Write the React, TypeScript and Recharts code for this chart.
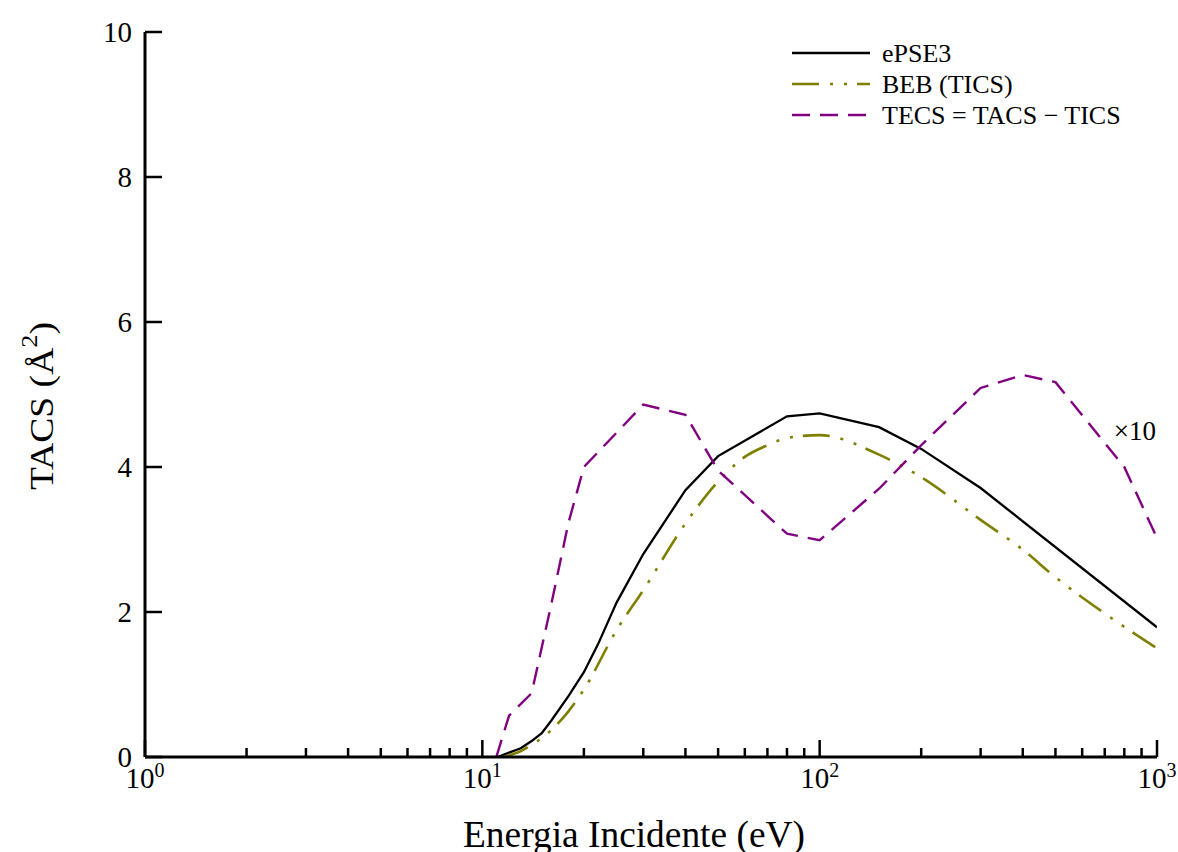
import { LineChart, Line, XAxis, YAxis, Legend, Label, ReferenceDot } from 'recharts';

// Energies in eV, cross sections in Å²
const epse3Energy = [11.1, 12, 13, 14, 15, 16, 18, 20, 22, 25, 30, 40, 50, 80, 100, 150, 200, 300, 1000];
const epse3Tacs = [0, 0.06, 0.12, 0.22, 0.33, 0.5, 0.84, 1.17, 1.55, 2.13, 2.8, 3.68, 4.15, 4.7, 4.74, 4.55, 4.25, 3.71, 1.79];

const bebEnergy = [11.5, 13, 14, 15, 16, 18, 20, 25, 30, 40, 50, 60, 70, 80, 100, 150, 200, 300, 400, 500, 700, 1000];
const bebTics = [0, 0.08, 0.17, 0.26, 0.37, 0.63, 0.93, 1.75, 2.3, 3.22, 3.8, 4.14, 4.3, 4.4, 4.44, 4.17, 3.86, 3.27, 2.86, 2.48, 1.98, 1.5];

// TECS is drawn multiplied by 10
const tecsEnergy = [11, 12, 14, 16, 18, 20, 30, 40, 50, 80, 100, 150, 200, 300, 400, 500, 800, 1000];
const tecsX10 = [0, 0.57, 0.88, 2.1, 3.23, 4.0, 4.86, 4.72, 3.95, 3.08, 2.99, 3.7, 4.3, 5.09, 5.27, 5.17, 4.0, 3.02];

const xTicks = [1, 2, 3, 4, 5, 6, 7, 8, 9, 10, 20, 30, 40, 50, 60, 70, 80, 90, 100, 200, 300, 400, 500, 600, 700, 800, 900, 1000];
const yTicks = [0, 2, 4, 6, 8, 10];

const bebDash = '27 11 3 11 3 10';
const tecsDash = '18 10';

const legendItems = [
  { name: 'ePSE3', color: '#000000', dash: undefined as string | undefined, width: 2.3 },
  { name: 'BEB (TICS)', color: '#808000', dash: bebDash, width: 2.6 },
  { name: 'TECS = TACS \u2212 TICS', color: '#800080', dash: tecsDash, width: 2.4 },
];

const epse3Data = epse3Energy.map((e, i) => ({ e, v: epse3Tacs[i] }));
const bebData = bebEnergy.map((e, i) => ({ e, v: bebTics[i] }));
const tecsData = tecsEnergy.map((e, i) => ({ e, v: tecsX10[i] }));

const serif = '"Liberation Serif", "Times New Roman", serif';

const XTick = ({ x, y, payload }: any) => {
  const v = payload.value;
  const exp = Math.round(Math.log10(v));
  const major = Math.abs(Math.pow(10, exp) - v) < 1e-6;
  return (
    <g>
      <line x1={x} x2={x} y1={y} y2={y - (major ? 17 : 9)} stroke="#000" strokeWidth={2.5} />
      {major && (
        <text x={x} y={y + 31} textAnchor="middle" fontFamily={serif} fontSize={29} fill="#000">
          10
          <tspan fontSize={20} dy={-11}>{exp}</tspan>
        </text>
      )}
    </g>
  );
};

const YTick = ({ x, y, payload }: any) => (
  <g>
    <line x1={x} x2={x + 17} y1={y} y2={y} stroke="#000" strokeWidth={2.5} />
    <text x={x - 13} y={y} dy={10} textAnchor="end" fontFamily={serif} fontSize={29} fill="#000">
      {payload.value}
    </text>
  </g>
);

const renderLegend = () => (
  <svg width={390} height={110}>
    {legendItems.map((item, i) => {
      const ly = [23, 54, 85][i];
      return (
        <g key={item.name}>
          <line
            x1={12}
            x2={90}
            y1={ly}
            y2={ly}
            stroke={item.color}
            strokeWidth={item.width}
            strokeDasharray={item.dash}
          />
          <text x={102} y={ly + 9} fontFamily={serif} fontSize={26} fill="#000">
            {item.name}
          </text>
        </g>
      );
    })}
  </svg>
);

export default function App() {
  return (
    <div style={{ position: 'absolute', left: 0, top: 0, background: '#fff' }}>
      <LineChart width={1178} height={852} margin={{ top: 32, right: 21, left: 85, bottom: 35 }}>
        <XAxis
          type="number"
          dataKey="e"
          scale="log"
          domain={[1, 1000]}
          allowDataOverflow
          ticks={xTicks}
          interval={0}
          height={60}
          tickSize={0}
          tickMargin={0}
          tickLine={false}
          axisLine={{ stroke: '#000', strokeWidth: 3 }}
          tick={<XTick />}
        >
          <Label
            content={({ viewBox }: any) => (
              <text
                x={viewBox.x + viewBox.width / 2 - 17}
                y={viewBox.y + 90}
                textAnchor="middle"
                fontFamily={serif}
                fontSize={38}
                textLength={342}
                lengthAdjust="spacingAndGlyphs"
                fill="#000"
              >
                Energia Incidente (eV)
              </text>
            )}
          />
        </XAxis>
        <YAxis
          type="number"
          domain={[0, 10]}
          ticks={yTicks}
          interval={0}
          width={60}
          tickSize={0}
          tickMargin={0}
          tickLine={false}
          axisLine={{ stroke: '#000', strokeWidth: 3 }}
          tick={<YTick />}
        >
          <Label
            content={() => (
              <text
                x={53}
                y={406}
                transform="rotate(-90 53 406)"
                textAnchor="middle"
                fontFamily={serif}
                fontSize={33}
                textLength={168}
                lengthAdjust="spacingAndGlyphs"
                fill="#000"
              >
                TACS (Å
                <tspan fontSize={23} dy={-16}>2</tspan>
                <tspan dy={16}>)</tspan>
              </text>
            )}
          />
        </YAxis>
        <Legend
          layout="horizontal"
          verticalAlign="middle"
          align="center"
          content={renderLegend}
          wrapperStyle={{ left: 780, top: 30, width: 390, height: 110 }}
        />
        <Line
          data={epse3Data}
          dataKey="v"
          name="ePSE3"
          type="linear"
          stroke="#000000"
          strokeWidth={2.3}
          dot={false}
          isAnimationActive={false}
        />
        <Line
          data={bebData}
          dataKey="v"
          name="BEB (TICS)"
          type="monotone"
          stroke="#808000"
          strokeWidth={2.6}
          strokeDasharray={bebDash}
          dot={false}
          isAnimationActive={false}
        />
        <Line
          data={tecsData}
          dataKey="v"
          name="TECS = TACS - TICS"
          type="linear"
          stroke="#800080"
          strokeWidth={2.4}
          strokeDasharray={tecsDash}
          dot={false}
          isAnimationActive={false}
        />
        <ReferenceDot
          x={860}
          y={4.5}
          r={0}
          fill="none"
          stroke="none"
          label={{ value: '\u00d710', position: 'center', fontFamily: serif, fontSize: 27, fill: '#000' }}
        />
      </LineChart>
    </div>
  );
}
